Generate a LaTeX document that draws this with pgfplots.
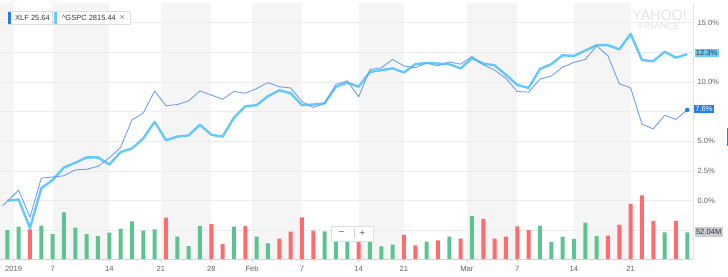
\documentclass[border=0pt]{standalone}
\usepackage{pgfplots}
\pgfplotsset{compat=1.18}
\usepackage{fontspec}
\setmainfont{Liberation Sans}
\definecolor{band}{RGB}{245,245,245}
\definecolor{gridc}{RGB}{236,236,236}
\definecolor{axisc}{RGB}{212,212,212}
\definecolor{raxisc}{RGB}{228,228,228}
\definecolor{lblc}{RGB}{100,100,100}
\definecolor{txtc}{RGB}{55,55,55}
\definecolor{vgreen}{RGB}{92,196,142}
\definecolor{vred}{RGB}{255,108,112}
\definecolor{spx}{RGB}{100,200,250}
\definecolor{spxlbl}{RGB}{108,204,248}
\definecolor{xlf}{RGB}{110,160,240}
\definecolor{xlfdark}{RGB}{33,128,234}
\definecolor{volbox}{RGB}{201,205,211}
\definecolor{wm}{RGB}{228,228,228}
\newcommand\tf{\fontsize{7.6}{8}\selectfont}
\begin{document}
\begin{tikzpicture}[x=1pt,y=1pt]
\useasboundingbox (0,0) rectangle (728,276);
\pgfplotsset{base/.style={scale only axis, width=693.3pt, height=256pt,
  xmin=-0.644, xmax=60.53, at={(0pt,17pt)}, anchor=south west}}
% background: bands and grid
\begin{axis}[base, ymin=-4.911, ymax=16.655, hide axis]
\fill[band] (axis cs:-0.644,-4.911) rectangle (axis cs:0.55,16.655);
\fill[band] (axis cs:4,-4.911) rectangle (axis cs:9,16.655);
\fill[band] (axis cs:13.55,-4.911) rectangle (axis cs:18,16.655);
\fill[band] (axis cs:21.6,-4.911) rectangle (axis cs:26,16.655);
\fill[band] (axis cs:31,-4.911) rectangle (axis cs:35,16.655);
\fill[band] (axis cs:40.55,-4.911) rectangle (axis cs:45,16.655);
\fill[band] (axis cs:50,-4.911) rectangle (axis cs:55,16.655);
\draw[gridc, line width=0.8pt] (axis cs:-0.644,-2.5) -- (axis cs:60.53,-2.5);
\draw[gridc, line width=0.8pt] (axis cs:-0.644,0) -- (axis cs:60.53,0);
\draw[gridc, line width=0.8pt] (axis cs:-0.644,2.5) -- (axis cs:60.53,2.5);
\draw[gridc, line width=0.8pt] (axis cs:-0.644,5) -- (axis cs:60.53,5);
\draw[gridc, line width=0.8pt] (axis cs:-0.644,7.5) -- (axis cs:60.53,7.5);
\draw[gridc, line width=0.8pt] (axis cs:-0.644,10) -- (axis cs:60.53,10);
\draw[gridc, line width=0.8pt] (axis cs:-0.644,12.5) -- (axis cs:60.53,12.5);
\draw[gridc, line width=0.8pt] (axis cs:-0.644,15) -- (axis cs:60.53,15);
\end{axis}
% volume bars
\begin{axis}[base, ymin=0, ymax=499, hide axis]
\addplot[ybar, bar width=4pt, bar shift=0pt, fill=vgreen, draw=none] coordinates {
(0,56.5) (1,63.0) (3,64.9) (4,48.7) (5,91.0) (6,61.0) (7,48.7) (8,44.8) (9,51.3)
(10,59.1) (11,73.5) (12,55.2) (13,57.9) (15,43.5) (16,25.3) (17,64.3) (20,63.0)
(22,43.5) (23,30.6) (28,54.0) (29,48.7) (30,46.8) (32,39.0) (33,24.8) (34,27.9)
(37,33.7) (39,43.5) (41,83.8) (47,64.9) (48,33.1) (49,43.5) (50,39.0) (51,70.7)
(52,44.8) (58,52.0) (60,52.04)};
\addplot[ybar, bar width=4pt, bar shift=0pt, fill=vred, draw=none] coordinates {
(2,57.9) (14,80.5) (18,68.2) (19,29.2) (21,64.3) (24,39.6) (25,53.2) (26,81.3)
(27,55.2) (31,48.7) (35,46.8) (36,26.7) (38,36.4) (40,39.6) (42,78.0) (43,39.6)
(44,43.5) (45,63.7) (46,56.5) (53,45.4) (54,66.9) (55,107.2) (56,124.2) (57,74.1)
(59,74.1)};
\end{axis}
% lines, ticks
\begin{axis}[base, ymin=-4.911, ymax=16.655, clip=false,
  axis line style={draw=none},
  xtick={0.55,4,9,13.55,18,21.6,26,31,35,40.55,45,50,55},
  xticklabels={2019,7,14,21,28,Feb,7,14,21,Mar,7,14,21},
  xtick pos=left, tick align=outside,
  xtick style={draw=axisc, line width=0.6pt},
  major tick length=3pt,
  xticklabel style={anchor=north, inner sep=0pt, yshift=-4pt, font=\tf, text=lblc},
  ytick={0,2.5,5,10,15},
  yticklabels={0.0\%,2.5\%,5.0\%,10.0\%,15.0\%},
  yticklabel pos=right, ytick pos=right,
  ytick style={draw=none},
  yticklabel style={anchor=west, inner sep=0pt, xshift=1pt, font=\tf, text=lblc},
]
\draw[axisc, line width=0.8pt] (rel axis cs:0,0) -- (rel axis cs:1,0);
\draw[raxisc, line width=0.8pt] (rel axis cs:1,0) -- (rel axis cs:1,1);
\addplot[spx, line width=2.4pt, line join=round] coordinates {
(0,0.0) (1,0.1) (2,-2.3) (3,1.05) (4,1.75) (5,2.8) (6,3.2) (7,3.65) (8,3.65) (9,3.05)
(10,4.1) (11,4.4) (12,5.25) (13,6.65) (14,5.1) (15,5.4) (16,5.5) (17,6.4) (18,5.55)
(19,5.4) (20,7.0) (21,7.95) (22,8.05) (23,8.8) (24,9.3) (25,9.05) (26,8.05) (27,8.1)
(28,8.2) (29,9.6) (30,9.95) (31,9.6) (32,10.85) (33,11.0) (34,11.15) (35,10.8)
(36,11.5) (37,11.6) (38,11.55) (39,11.5) (40,11.15) (41,12.0) (42,11.55) (43,11.4)
(44,10.6) (45,9.75) (46,9.5) (47,11.1) (48,11.5) (49,12.25) (50,12.2) (51,12.65)
(52,13.1) (53,13.1) (54,12.75) (55,14.05) (56,11.85) (57,11.75) (58,12.55)
(59,12.05) (60,12.35)};
\addplot[xlf, line width=0.9pt, line join=round] coordinates {
(-0.4,-0.42) (0,-0.05) (1,0.9) (2,-1.4) (3,1.9) (4,2.0) (5,2.1) (6,2.6) (7,2.65)
(8,2.9) (9,3.6) (10,4.5) (11,6.8) (12,7.4) (13,9.25) (14,8.0) (15,8.1) (16,8.4)
(17,9.25) (18,8.9) (19,8.55) (20,9.2) (21,9.05) (22,9.45) (23,9.95) (24,9.6)
(25,9.5) (26,8.35) (27,7.85) (28,8.2) (29,9.8) (30,10.1) (31,8.75) (32,11.05)
(33,11.2) (34,11.9) (35,11.35) (36,11.2) (37,11.6) (38,11.35) (39,11.7) (40,11.5)
(41,12.15) (42,11.45) (43,11.0) (44,10.3) (45,9.2) (46,9.15) (47,10.25) (48,10.5)
(49,11.25) (50,11.65) (51,11.9) (52,13.05) (53,12.2) (54,9.85) (55,9.5) (56,6.45)
(57,6.05) (58,7.2) (59,6.85) (60,7.65)};
\addplot[only marks, mark=*, mark size=2pt, xlfdark] coordinates {(60,7.65)};
\end{axis}
% overlays
\node[text=wm, font=\fontsize{15}{15}\selectfont, inner sep=0pt, xscale=0.95] at (659.5,261) {YAHOO!};
\node[text=wm, font=\fontsize{9.3}{9.3}\selectfont, inner sep=0pt] at (659.3,249.3) {FINANCE};
% legend boxes
\fill[white] (8.3,252) rectangle (51.7,264.3);
\draw[gray!25, line width=0.4pt] (8.3,252) rectangle (51.7,264.3);
\fill[xlfdark] (8.3,252) rectangle (11,264.3);
\node[anchor=west, inner sep=0pt, font=\fontsize{7.5}{8}\selectfont, text=txtc] at (15,258.2) {XLF 25.64};
\fill[white] (54,252) rectangle (130,264.3);
\draw[gray!25, line width=0.4pt] (54,252) rectangle (130,264.3);
\fill[spxlbl] (54,252) rectangle (56.7,264.3);
\node[anchor=west, inner sep=0pt, font=\fontsize{7.5}{8}\selectfont, text=txtc] at (61.7,258.2) {\textasciicircum GSPC 2815.44};
\node[inner sep=0pt, font=\fontsize{9}{9}\selectfont, text=gray] at (122.3,258.2) {×};
% right value labels
\node[anchor=west, fill=spxlbl, text=txtc, font=\tf, inner xsep=1.3pt, inner ysep=0pt, minimum height=8.5pt] at (694.3,222.8) {12.3\%};
\node[anchor=west, fill=xlfdark, text=white, font=\tf, inner xsep=1.8pt, inner ysep=0pt, minimum height=8.5pt] at (693.3,167) {7.6\%};
\node[anchor=west, fill=volbox, text=txtc, font=\tf, inner xsep=1.5pt, inner ysep=0pt, minimum height=10pt] at (694.3,43.7) {52.04M};
\fill[xlfdark] (726.5,130) rectangle (728,148);
% zoom control
\fill[white] (330.7,35) rectangle (372.7,50);
\draw[gray!25, line width=0.4pt] (330.7,35) rectangle (372.7,50);
\draw[gray!40, line width=0.5pt] (354,38) -- (354,47);
\node[inner sep=0pt, font=\fontsize{10}{10}\selectfont, text=lblc] at (341.5,42.5) {−};
\node[inner sep=0pt, font=\fontsize{10}{10}\selectfont, text=lblc] at (362.3,42.5) {+};
\end{tikzpicture}
\end{document}
